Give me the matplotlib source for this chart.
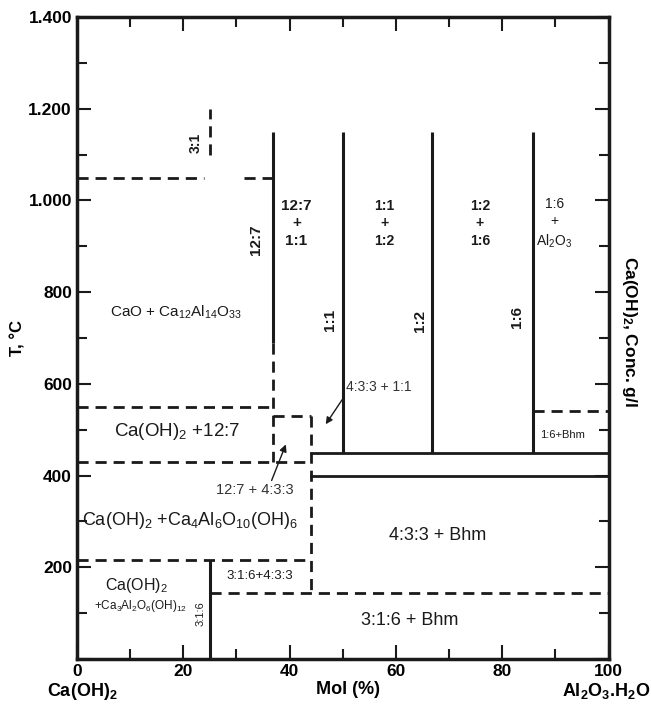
import matplotlib
matplotlib.use("Agg")
import matplotlib.pyplot as plt

plt.rcParams['font.family'] = ['Liberation Sans', 'DejaVu Sans']
plt.rcParams['mathtext.default'] = 'regular'

# solid compound lines: mol % Al2O3, lower T, upper T
solid_x = [36.8, 50.0, 66.7, 85.7, 25.0]
solid_lo = [690, 450, 450, 450, 0]
solid_hi = [1150, 1150, 1150, 1150, 215]

# solid horizontal boundaries: T, x from, x to
hsolid_t = [450, 400]
hsolid_x0 = [44, 44]
hsolid_x1 = [100, 100]

# dashed boundaries as (x0, x1, T0, T1)
dashed_x0 = [0, 31.5, 25, 36.8, 0, 0, 36.8, 44, 0, 25, 85.7]
dashed_x1 = [24, 36.8, 25, 36.8, 36.8, 44, 44, 44, 44, 100, 100]
dashed_t0 = [1050, 1050, 1100, 690, 550, 430, 530, 530, 215, 145, 540]
dashed_t1 = [1050, 1050, 1200, 430, 550, 430, 530, 145, 215, 145, 540]

# phase labels: text, x, T, rotation, size, weight
labels = [
    ("3:1", 22.3, 1125, 90, 10, 'bold'),
    ("12:7", 33.6, 915, 90, 11, 'bold'),
    ("12:7\n+\n1:1", 41.3, 950, 0, 11, 'bold'),
    ("1:1", 47.6, 740, 90, 11, 'bold'),
    ("1:1\n+\n1:2", 57.8, 950, 0, 10, 'bold'),
    ("1:2", 64.6, 738, 90, 11, 'bold'),
    ("1:2\n+\n1:6", 75.8, 950, 0, 10, 'bold'),
    ("1:6", 82.8, 745, 90, 11, 'bold'),
    ("1:6\n+\nAl$_2$O$_3$", 89.8, 950, 0, 10, 'normal'),
    ("CaO + Ca$_{12}$Al$_{14}$O$_{33}$", 18.6, 755, 0, 11, 'normal'),
    ("Ca(OH)$_2$ +12:7", 18.8, 497, 0, 13.5, 'normal'),
    ("Ca(OH)$_2$ +Ca$_4$Al$_6$O$_{10}$(OH)$_6$", 21.3, 303, 0, 13, 'normal'),
    ("4:3:3 + Bhm", 67.9, 270, 0, 13, 'normal'),
    ("3:1:6+4:3:3", 34.4, 180, 0, 9.5, 'normal'),
    ("Ca(OH)$_2$", 11.3, 160, 0, 11.5, 'normal'),
    ("+Ca$_3$Al$_2$O$_6$(OH)$_{12}$", 11.9, 115, 0, 8.5, 'normal'),
    ("3:1:6", 23.3, 100, 90, 8, 'normal'),
    ("3:1:6 + Bhm", 62.6, 85, 0, 13, 'normal'),
    ("1:6+Bhm", 91.3, 488, 0, 8, 'normal'),
]

# arrowed labels: text, text x, text T, arrow tip x, arrow tip T
arrow_labels = [
    ("4:3:3 + 1:1", 50.6, 593, 46.8, 512),
    ("12:7 + 4:3:3", 33.5, 368, 39.3, 468),
]

fig = plt.figure(figsize=(6.51, 7.09), dpi=100)
ax = fig.add_axes([0.118, 0.0705, 0.817, 0.9055])

for x, lo, hi in zip(solid_x, solid_lo, solid_hi):
    ax.plot([x, x], [lo, hi], color='#1a1a1a', lw=2.2, solid_capstyle='butt')
for t, x0, x1 in zip(hsolid_t, hsolid_x0, hsolid_x1):
    ax.plot([x0, x1], [t, t], color='#1a1a1a', lw=2.0)
for x0, x1, t0, t1 in zip(dashed_x0, dashed_x1, dashed_t0, dashed_t1):
    ax.plot([x0, x1], [t0, t1], color='#1a1a1a', lw=2.0, ls=(0, (4, 2.5)))

for txt, x, t, rot, size, weight in labels:
    ax.text(x, t, txt, rotation=rot, fontsize=size, fontweight=weight,
            ha='center', va='center', linespacing=1.3, color='#1a1a1a')

# first arrow starts at lower-left of its label, second at upper-right
ax.annotate(arrow_labels[0][0], xy=arrow_labels[0][3:], xytext=arrow_labels[0][1:3],
            fontsize=10, ha='left', va='center', color='#333333',
            arrowprops=dict(arrowstyle='-|>', color='#1a1a1a', lw=1.0,
                            relpos=(0.0, 0.0), shrinkA=0, shrinkB=0))
ax.annotate(arrow_labels[1][0], xy=arrow_labels[1][3:], xytext=arrow_labels[1][1:3],
            fontsize=10.5, ha='center', va='center', color='#333333',
            arrowprops=dict(arrowstyle='-|>', color='#1a1a1a', lw=1.0,
                            relpos=(0.7, 1.0), shrinkA=0, shrinkB=0))

ax.set_xlim(0, 100)
ax.set_ylim(0, 1400)
ax.set_xticks(range(0, 101, 20))
ax.set_xticks(range(10, 100, 20), minor=True)
ax.set_yticks(range(0, 1401, 200))
ax.set_yticks(range(100, 1400, 200), minor=True)
ax.set_yticklabels(['', '200', '400', '600', '800', '1.000', '1.200', '1.400'])
ax.tick_params(which='both', direction='in', top=True, right=True, width=1.5,
               labelsize=12.5, color='#1a1a1a')
ax.tick_params(which='major', length=10)
ax.tick_params(which='minor', length=7)
for lab in ax.get_xticklabels() + ax.get_yticklabels():
    lab.set_fontweight('bold')
for sp in ax.spines.values():
    sp.set_linewidth(2.5)
    sp.set_color('#1a1a1a')

ax.set_ylabel("T, °C", fontsize=12, fontweight='bold', labelpad=2)
ax.text(1.04, 0.51, "Ca(OH)$_2$, Conc. g/l", transform=ax.transAxes, rotation=270,
        fontsize=12.5, fontweight='bold', ha='center', va='center')
ax.text(0.01, -0.035, "Ca(OH)$_2$", transform=ax.transAxes, fontsize=13,
        fontweight='bold', ha='center', va='top')
ax.text(0.51, -0.035, "Mol (%)", transform=ax.transAxes, fontsize=13,
        fontweight='bold', ha='center', va='top')
ax.text(0.996, -0.035, "Al$_2$O$_3$.H$_2$O", transform=ax.transAxes, fontsize=13,
        fontweight='bold', ha='center', va='top')

plt.savefig('out.png', dpi=100)
plt.close(fig)
